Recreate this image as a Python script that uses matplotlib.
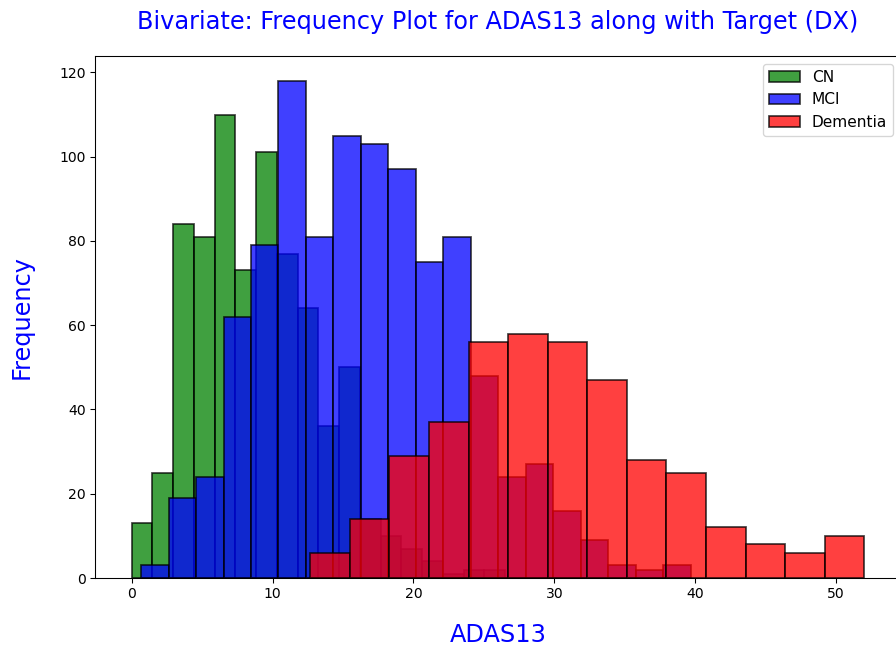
import numpy as np
import matplotlib
matplotlib.use("Agg")
import matplotlib.pyplot as plt

# histogram counts per class
cn_counts = [13, 25, 84, 81, 110, 73, 101, 77, 64, 36, 50, 14, 10, 7, 4, 1, 2, 2]
cn_range = (0.0, 26.5)

mci_counts = [3, 19, 24, 62, 79, 118, 81, 105, 103, 97, 75, 81, 48, 24, 27, 16, 9, 3, 2, 3]
mci_range = (0.67, 39.67)

dem_counts = [6, 14, 29, 37, 56, 58, 56, 47, 28, 25, 12, 8, 6, 10]
dem_range = (12.67, 52.0)

labels = ["CN", "MCI", "Dementia"]
colors = ["green", "blue", "red"]

fig = plt.figure(figsize=(896 / 96, 648 / 96), dpi=96)
ax = fig.add_axes([95 / 896, (648 - 578) / 648, 806 / 896, 522 / 648])

for counts, rng, lab, col in zip([cn_counts, mci_counts, dem_counts],
                                 [cn_range, mci_range, dem_range],
                                 labels, colors):
    edges = np.linspace(rng[0], rng[1], len(counts) + 1)
    ax.bar(edges[:-1], counts, width=np.diff(edges), align="edge",
           color=col, alpha=0.75, edgecolor="black", linewidth=1.3, label=lab)

ax.set_title("Bivariate: Frequency Plot for ADAS13 along with Target (DX)",
             color="blue", fontsize=18, pad=20)
ax.set_xlabel("ADAS13", color="blue", fontsize=18, labelpad=16)
ax.set_ylabel("Frequency", color="blue", fontsize=18, labelpad=19)
ax.tick_params(labelsize=10.5)
ax.legend(loc="upper right", fontsize=11.5)

fig.savefig("out.png", dpi=96)
plt.close()
